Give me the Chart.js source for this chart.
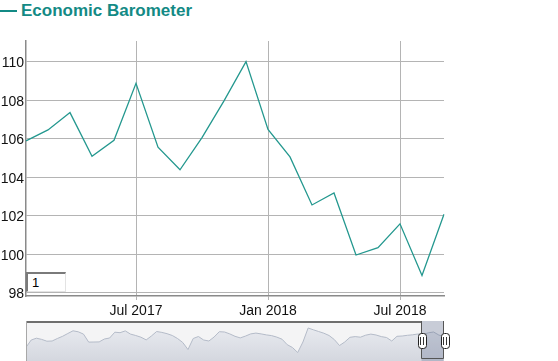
<!DOCTYPE html>
<html>
<head>
<meta charset="utf-8">
<script src="https://cdn.jsdelivr.net/npm/chart.js@4"></script>
<style>
  body { margin: 0; background: #fff; font-family: Arial, "Liberation Sans", sans-serif; }
  #wrap { position: relative; width: 558px; height: 361px; overflow: hidden; }
  #title { position: absolute; left: 0; top: 1px; height: 20px; line-height: 20px; font-weight: bold; font-size: 17px; color: #138a85; white-space: nowrap; }
  #title .dash { display: inline-block; width: 17px; height: 2px; background: #138a85; vertical-align: middle; margin-right: 4px; position: relative; top: -1px; }
  #mainChart { position: absolute; left: 0; top: 0; }
  #navChart { position: absolute; left: 26px; top: 321px; }
  #pageBox { position: absolute; left: 26px; top: 272px; width: 33px; height: 17px; padding: 0 0 0 4px; margin: 0;
    border-top: 2px solid #7a7a7a; border-left: 2px solid #7a7a7a; border-right: 1px solid #e3e3e3; border-bottom: 1px solid #e3e3e3;
    font: 13px Arial, sans-serif; color: #000; background: #fff; outline: none; }
</style>
</head>
<body>
<div id="wrap">
  <div id="title"><span class="dash"></span>Economic Barometer</div>
  <canvas id="mainChart" width="558" height="320"></canvas>
  <input id="pageBox" type="text" value="1">
  <canvas id="navChart" width="432" height="40"></canvas>
</div>
<script>
// monthly index values
const months = ['Feb 2017', 'Mar 2017', 'Apr 2017', 'May 2017', 'Jun 2017', 'Jul 2017', 'Aug 2017', 'Sep 2017', 'Oct 2017', 'Nov 2017',
  'Dec 2017', 'Jan 2018', 'Feb 2018', 'Mar 2018', 'Apr 2018', 'May 2018', 'Jun 2018', 'Jul 2018', 'Aug 2018', 'Sep 2018'];
const barometer = [105.88, 106.45, 107.35, 105.08, 105.91, 108.87, 105.55, 104.38, 106.05, 107.96,
  110.0, 106.48, 105.05, 102.55, 103.17, 99.95, 100.33, 101.57, 98.89, 102.07];
const xTickLabels = ['Jul 2017', 'Jan 2018', 'Jul 2018'];
const yTicks = [98, 100, 102, 104, 106, 108, 110];

// long history shown in the range navigator
const navValues = [13.7, 21, 22.8, 21.6, 19.8, 20, 22.5, 24.7, 27.5, 30.2,
  29.2, 26.9, 18.9, 19, 19.1, 22, 23, 28.8, 28.3, 30.1,
  26.9, 25.5, 23.8, 21.1, 25, 29.5, 28.6, 27.3, 25.5, 22.5,
  18.5, 11.5, 22.5, 24.5, 21, 20, 24, 29.3, 29, 27.1,
  24.7, 23.1, 24.9, 27.1, 27.9, 27.1, 26.1, 25.4, 23.9, 21.8,
  16.3, 13.5, 8.5, 19, 33, 31.2, 29.5, 27.8, 25.5, 21.5,
  15.5, 19, 23.7, 24.4, 23.8, 25.8, 26.9, 26, 24.4, 23.5,
  20, 24.7, 25, 25.7, 26.2, 27, 26.5, 28.2, 29, 26, 24.3];
const navSelectFrom = 75.6;

const lineColor = '#24988f';
const gridColor = '#b4b4b4';
const axisColor = '#8a8a8a';
const tickFont = { family: 'Arial', size: 14 };

new Chart(document.getElementById('mainChart'), {
  type: 'line',
  data: {
    labels: months,
    datasets: [{
      data: barometer,
      borderColor: lineColor,
      borderWidth: 1.3,
      pointRadius: 0,
      tension: 0,
      fill: false
    }]
  },
  options: {
    responsive: false,
    animation: false,
    devicePixelRatio: 1,
    layout: { padding: { left: 0, right: 114, top: 41, bottom: 0 } },
    plugins: { legend: { display: false }, tooltip: { enabled: false } },
    scales: {
      x: {
        type: 'category',
        offset: false,
        afterBuildTicks: scale => {
          scale.ticks = xTickLabels.map(l => ({ value: months.indexOf(l) }));
        },
        afterFit: scale => { scale.height = 24; },
        ticks: { autoSkip: false, maxRotation: 0, color: '#111', font: tickFont, padding: 3 },
        grid: { color: gridColor, tickLength: 4, tickColor: gridColor },
        border: { color: axisColor, width: 1.5 }
      },
      y: {
        min: 97.82,
        max: 111.07,
        afterBuildTicks: scale => {
          scale.ticks = yTicks.map(v => ({ value: v }));
        },
        afterFit: scale => { scale.width = 26; },
        ticks: { color: '#111', font: tickFont, padding: 2, labelOffset: 2 },
        grid: { color: gridColor, drawTicks: false },
        border: { color: axisColor, width: 1.5 }
      }
    }
  }
});

// navigator: background, selected window and handles
const navDecor = {
  id: 'navDecor',
  beforeDatasetsDraw(chart) {
    const { ctx, chartArea: a } = chart;
    ctx.save();
    ctx.fillStyle = '#f4f4f5';
    ctx.fillRect(a.left, a.top, a.right - a.left, a.bottom - a.top);
    ctx.restore();
  },
  afterDatasetsDraw(chart) {
    const { ctx, chartArea: a } = chart;
    const x0 = Math.round(chart.scales.x.getPixelForValue(navSelectFrom)) + 0.5;
    const x1 = Math.round(a.right) - 0.5;
    ctx.save();
    ctx.fillStyle = 'rgba(85, 100, 135, 0.28)';
    ctx.fillRect(x0, a.top, x1 - x0, a.bottom - a.top);
    // frame
    ctx.strokeStyle = '#6e6e6e';
    ctx.lineWidth = 2;
    ctx.beginPath();
    ctx.moveTo(a.left, a.top + 1);
    ctx.lineTo(x0, a.top + 1);
    ctx.stroke();
    ctx.lineWidth = 1;
    ctx.strokeStyle = '#a8a8a8';
    ctx.beginPath();
    ctx.moveTo(a.left + 0.5, a.top);
    ctx.lineTo(a.left + 0.5, a.bottom);
    ctx.stroke();
    ctx.strokeStyle = '#555';
    ctx.beginPath();
    ctx.moveTo(x0, a.top);
    ctx.lineTo(x0, a.bottom - 2.5);
    ctx.lineTo(x1, a.bottom - 2.5);
    ctx.lineTo(x1, a.top);
    ctx.stroke();
    // handles
    [x0, x1 + 1].forEach(hx => {
      const w = 8, h = 15, top = a.top + 12;
      ctx.fillStyle = '#fff';
      ctx.strokeStyle = '#222';
      ctx.lineWidth = 1;
      ctx.beginPath();
      ctx.roundRect(Math.round(hx - w / 2) + 0.5, top + 0.5, w, h, 3);
      ctx.fill();
      ctx.stroke();
      ctx.strokeStyle = '#333';
      ctx.beginPath();
      ctx.moveTo(Math.round(hx) - 1.5, top + 4);
      ctx.lineTo(Math.round(hx) - 1.5, top + h - 3);
      ctx.moveTo(Math.round(hx) + 1.5, top + 4);
      ctx.lineTo(Math.round(hx) + 1.5, top + h - 3);
      ctx.stroke();
    });
    ctx.restore();
  }
};

const navCanvas = document.getElementById('navChart');
const navGrad = navCanvas.getContext('2d').createLinearGradient(0, 0, 0, 40);
navGrad.addColorStop(0, '#eceef3');
navGrad.addColorStop(1, '#d4d7df');

new Chart(navCanvas, {
  type: 'line',
  data: {
    labels: navValues.map((v, i) => i),
    datasets: [{
      data: navValues,
      borderColor: '#b4bbc8',
      borderWidth: 1,
      pointRadius: 0,
      tension: 0,
      fill: 'origin',
      backgroundColor: navGrad
    }]
  },
  options: {
    responsive: false,
    animation: false,
    devicePixelRatio: 1,
    layout: { padding: { left: 0, right: 14, top: 0, bottom: 0 } },
    plugins: { legend: { display: false }, tooltip: { enabled: false } },
    scales: {
      x: { type: 'category', offset: false, display: false },
      y: { min: 0, max: 40, display: false }
    }
  },
  plugins: [navDecor]
});
</script>
</body>
</html>
